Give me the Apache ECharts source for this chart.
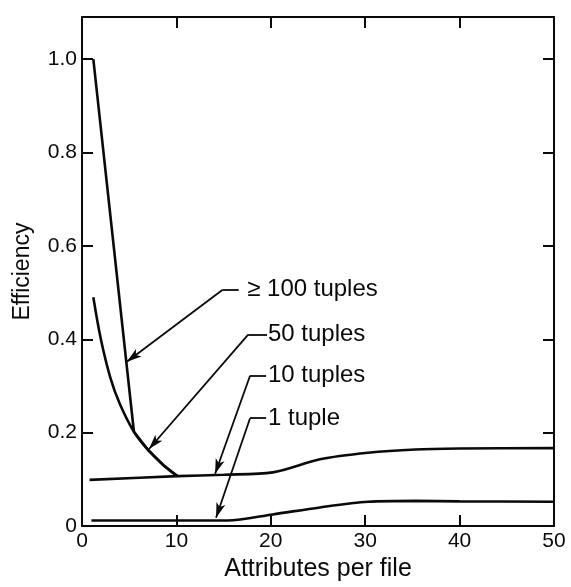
<!DOCTYPE html>
<html><head><meta charset="utf-8">
<script src="https://cdn.jsdelivr.net/npm/echarts@6/dist/echarts.min.js"></script>
<style>html,body{margin:0;padding:0;background:#fff}#c{width:571px;height:587px}</style>
</head><body><div id="c"></div>
<script>
// ---- data ----
const seriesNames = ['\u2265 100 tuples', '50 tuples', '10 tuples', '1 tuple'];

const x100 = [1.2, 5.5, 7.0, 8.6, 10.1];
const y100 = [1.0, 0.202, 0.163, 0.131, 0.107];

const x50 = [1.2, 2.0, 3.0, 4.0, 5.5, 7.0, 8.6, 10.1];
const y50 = [0.49, 0.40, 0.318, 0.262, 0.202, 0.163, 0.131, 0.107];

const x10 = [0.8, 10.1, 15.0, 20.2, 25.2, 30.3, 35.3, 40.0, 50.0];
const y10 = [0.099, 0.107, 0.110, 0.115, 0.143, 0.157, 0.164, 0.166, 0.167];

const x1 = [1.0, 10.0, 15.4, 20.2, 25.2, 30.3, 35.3, 40.0, 50.0];
const y1 = [0.012, 0.012, 0.012, 0.025, 0.040, 0.052, 0.054, 0.053, 0.052];

const xTickValues = [0, 10, 20, 30, 40, 50];
const yTickValues = [0, 0.2, 0.4, 0.6, 0.8, 1.0];
const yTickLabels = ['0', '0.2', '0.4', '0.6', '0.8', '1.0'];

const xTitle = 'Attributes per file';
const yTitle = 'Efficiency';

// ---- chart building ----
const INK = '#0a0a0a';
const FONT = '"Liberation Sans", Arial, sans-serif';

// annotation geometry (data coordinates): text anchor, elbow, arrow tip
const annotationLayout = [
  { text: [17.5, 0.506], from: [16.6, 0.506], elbow: [14.9, 0.506], tip: [4.75, 0.352] },
  { text: [19.7, 0.410], from: [19.6, 0.410], elbow: [17.6, 0.410], tip: [7.1, 0.165] },
  { text: [19.7, 0.322], from: [19.5, 0.322], elbow: [17.8, 0.322], tip: [14.1, 0.112] },
  { text: [19.7, 0.231], from: [19.5, 0.231], elbow: [17.8, 0.231], tip: [14.2, 0.018] }
];

const xs = [x100, x50, x10, x1];
const ys = [y100, y50, y10, y1];
const smooths = [false, 0.35, 0.3, 0.3];

function zip(a, b) { return a.map((v, i) => [v, b[i]]); }

const series = seriesNames.map((name, i) => {
  const a = annotationLayout[i];
  return {
    name: name,
    type: 'line',
    data: zip(xs[i], ys[i]),
    smooth: smooths[i],
    symbol: 'none',
    lineStyle: { color: INK, width: 2.6 },
    z: 3,
    markLine: {
      silent: true,
      animation: false,
      symbolSize: [7, 15],
      lineStyle: { color: INK, width: 1.8, type: 'solid' },
      label: { show: false },
      data: [
        [ { coord: a.from, symbol: 'none' }, { coord: a.elbow, symbol: 'none' } ],
        [ { coord: a.elbow, symbol: 'none' }, { coord: a.tip, symbol: 'arrow' } ]
      ]
    },
    markPoint: {
      silent: true,
      animation: false,
      symbol: 'circle',
      symbolSize: 0,
      data: [{
        coord: a.text,
        label: {
          show: true,
          position: 'right',
          distance: 0,
          formatter: name,
          color: INK,
          fontFamily: FONT,
          fontSize: 24,
          align: 'left',
          verticalAlign: 'middle'
        }
      }]
    }
  };
});

const axisCommon = {
  type: 'value',
  axisLine: { show: true, onZero: false, lineStyle: { color: INK, width: 2 } },
  axisTick: { show: true, inside: true, length: 11, lineStyle: { color: INK, width: 2 } },
  splitLine: { show: false }
};

const option = {
  animation: false,
  backgroundColor: '#fff',
  grid: { left: 82, right: 17, top: 17, bottom: 55 },
  xAxis: [
    Object.assign({}, axisCommon, {
      position: 'bottom', min: xTickValues[0], max: xTickValues[xTickValues.length - 1], interval: 10,
      name: xTitle, nameLocation: 'middle', nameGap: 30,
      nameTextStyle: { color: INK, fontFamily: FONT, fontSize: 25 },
      axisLabel: { color: INK, fontFamily: FONT, fontSize: 21, margin: 5 }
    }),
    Object.assign({}, axisCommon, {
      position: 'top', min: xTickValues[0], max: xTickValues[xTickValues.length - 1], interval: 10,
      axisLabel: { show: false }
    })
  ],
  yAxis: [
    Object.assign({}, axisCommon, {
      position: 'left', min: 0, max: 1.09, interval: 0.2,
      name: yTitle, nameLocation: 'middle', nameGap: 48, nameRotate: 90,
      nameTextStyle: { color: INK, fontFamily: FONT, fontSize: 23 },
      axisLabel: {
        color: INK, fontFamily: FONT, fontSize: 21, margin: 5, showMaxLabel: false,
        formatter: function (v) {
          const idx = yTickValues.findIndex(t => Math.abs(t - v) < 1e-6);
          return idx >= 0 ? yTickLabels[idx] : '';
        }
      }
    }),
    Object.assign({}, axisCommon, {
      position: 'right', min: 0, max: 1.09, interval: 0.2,
      axisLabel: { show: false }
    })
  ],
  series: series
};

const chart = echarts.init(document.getElementById('c'), null, { renderer: 'canvas' });
chart.setOption(option);
</script>
</body></html>
